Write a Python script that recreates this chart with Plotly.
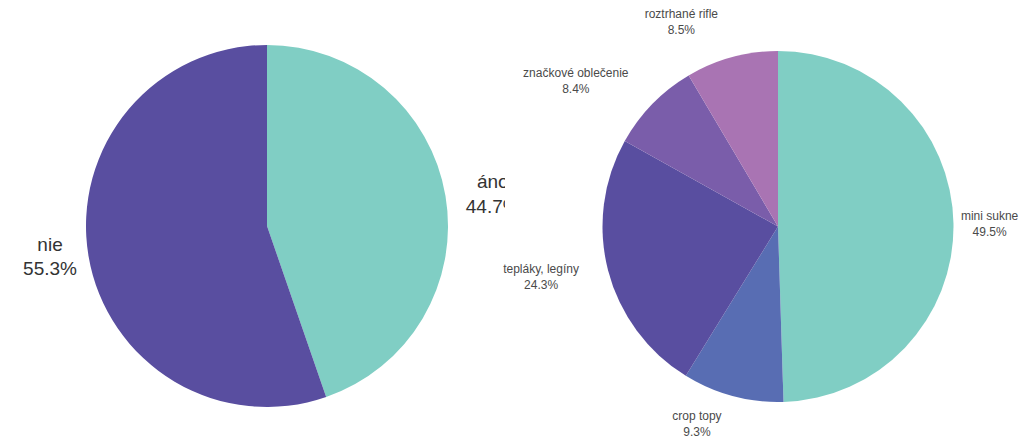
import plotly.graph_objects as go

# Left pie data
left_labels = ["áno", "nie"]
left_values = [44.7, 55.3]
left_colors = ["#80cec4", "#594ea0"]

# Right pie data
right_labels = ["mini sukne", "crop topy", "tepláky, legíny", "značkové oblečenie", "roztrhané rifle"]
right_values = [49.5, 9.3, 24.3, 8.4, 8.5]
right_colors = ["#80cec4", "#586db3", "#594ea0", "#7a5daa", "#a974b3"]

W, H = 1036, 438
OFF = 8  # page body margin offset

def dom(cx, cy, r):
    cx -= OFF
    cy -= OFF
    return dict(x=[(cx - r) / W, (cx + r) / W], y=[(H - cy - r) / H, (H - cy + r) / H])

TPL = "%{label}<br>%{value:.1f}%"
FONT = "Liberation Sans, Arial, sans-serif"
big_font = dict(family=FONT, size=19, color="#333333")
small_font = dict(family=FONT, size=12, color="#4a4a4a")
CLEAR = "rgba(0,0,0,0)"

def pie(labels, values, colors, tpl, font, d, **kw):
    return go.Pie(labels=labels, values=values, sort=False, direction="clockwise", rotation=0,
                  marker=dict(colors=colors, line=dict(width=0)),
                  textposition="outside", texttemplate=tpl, textfont=font,
                  domain=d, automargin=False, showlegend=False, **kw)

fig = go.Figure()
# left chart
fig.add_trace(pie(left_labels, left_values, left_colors, ["", TPL], big_font, dom(267, 226, 181)))
fig.add_trace(pie(left_labels, left_values, [CLEAR] * 2, [TPL, ""], big_font,
                  dom(267, 226, 190), hoverinfo="skip"))
# right chart
fig.add_trace(pie(right_labels, right_values, right_colors, [TPL, "", "", "", ""], small_font,
                  dom(778, 226.5, 175.5)))
fig.add_trace(pie(right_labels, right_values, [CLEAR] * 5, ["", TPL, "", "", ""], small_font,
                  dom(778, 226.5, 190), hoverinfo="skip"))
fig.add_trace(pie(right_labels, right_values, [CLEAR] * 5, ["", "", TPL, TPL, TPL], small_font,
                  dom(778, 226.5, 198), hoverinfo="skip"))

# white mask clipping the left chart's label at its panel edge
fig.add_shape(type="rect", xref="paper", yref="paper", layer="above",
              x0=(505 - OFF) / W, x1=(560 - OFF) / W,
              y0=(H - 220 + OFF) / H, y1=(H - 145 + OFF) / H,
              fillcolor="white", line=dict(width=0))

fig.update_layout(width=W, height=H, margin=dict(l=0, r=0, t=0, b=0),
                  paper_bgcolor="white", plot_bgcolor="white")
fig.write_html("out.html")
